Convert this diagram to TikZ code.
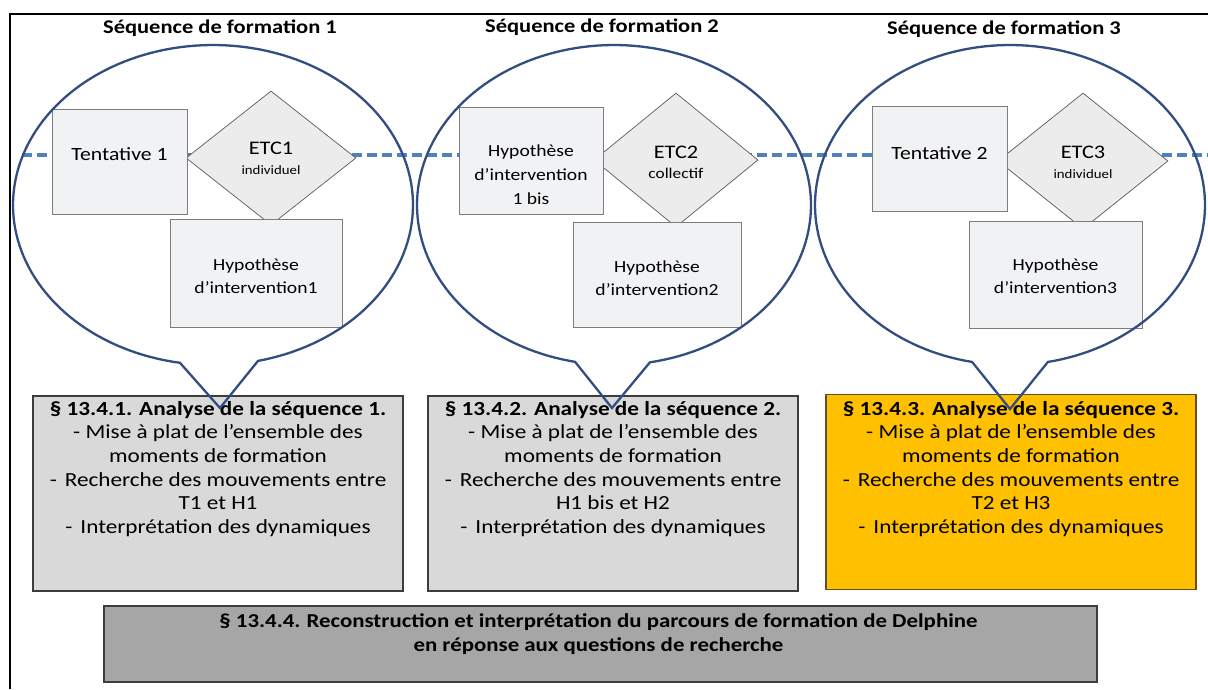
\documentclass[tikz,border=0pt]{standalone}
\usepackage{fontspec}
\setmainfont{Carlito}[FakeStretch=1.16]
\usetikzlibrary{shapes.geometric}
\definecolor{bubblecol}{RGB}{50,78,128}
\definecolor{dashcol}{RGB}{79,129,189}
\definecolor{innerfill}{RGB}{241,242,244}
\definecolor{innerdraw}{RGB}{125,125,125}
\definecolor{diafill}{RGB}{236,236,236}
\definecolor{diadraw}{RGB}{90,90,90}
\definecolor{lowfill}{RGB}{217,217,217}
\definecolor{lowdraw}{RGB}{60,60,60}
\definecolor{orangefill}{RGB}{255,192,0}
\definecolor{orangedraw}{RGB}{95,80,40}
\definecolor{bottomfill}{RGB}{166,166,166}
\newcommand{\fsz}[2]{\fontsize{#1}{#2}\selectfont}
% #1 horizontal shift (x2), #2 raise of first baseline, #3 width, #4 text
\newcommand{\ptext}[4]{\makebox[0pt]{\hspace*{#1}\raisebox{#2}[0pt][0pt]{\parbox[t]{#3}{\centering #4}}}}
\begin{document}
\begin{tikzpicture}[x=1pt,y=-1pt,
  frameline/.style={draw=black,line width=1.2pt},
  titletext/.style={font=\bfseries\fsz{19.4}{22},text=black,inner sep=0pt},
  dashline/.style={draw=dashcol,line width=3.2pt,dash pattern=on 10pt off 5pt},
  ibox/.style={draw=innerdraw,fill=innerfill,line width=0.8pt,inner sep=0pt,rectangle},
  dbox/.style={diamond,draw=diadraw,fill=diafill,line width=0.7pt,inner sep=0pt},
  lowbox/.style={draw=lowdraw,fill=lowfill,line width=1.2pt,inner sep=0pt,rectangle,minimum width=370pt,minimum height=195pt},
  orangebox/.style={lowbox,draw=orangedraw,fill=orangefill},
  bottombox/.style={draw=lowdraw,fill=bottomfill,line width=1.2pt,inner sep=0pt,rectangle,minimum width=993pt,minimum height=76pt},
  bubble/.style={draw=bubblecol,line width=2.3pt}
]
\useasboundingbox (0,0) rectangle (1208,689);
\fill[white] (0,0) rectangle (1208,689);
% frame
\coordinate (fbl) at (10,689);
\coordinate (ftr) at (1208,14);
\draw[frameline] (fbl) |- (ftr);
% dashed time line
\coordinate (dl) at (22,155);
\coordinate (dr) at (1208,155);
\draw[dashline] (dl) -- (dr);

% ---- sequence 1
\node[dbox,minimum width=170pt,minimum height=134pt] (etc1) at (271,158)
  {\ptext{0pt}{3.7pt}{120pt}{\fsz{19.2}{20}ETC1\\\fsz{12.8}{20.5}individuel}};
\node[ibox,minimum width=135pt,minimum height=105pt] (ten1) at (119.5,161.5)
  {\ptext{0pt}{1pt}{130pt}{\fsz{18.7}{22}Tentative 1}};
\node[ibox,minimum width=172pt,minimum height=108pt] (hyp1) at (256,273)
  {\ptext{0pt}{3pt}{168pt}{\fsz{16.9}{23.5}Hypothèse\\d’intervention1}};

% ---- sequence 2
\node[dbox,minimum width=164pt,minimum height=134pt] (etc2) at (676,160)
  {\ptext{0pt}{2pt}{120pt}{\fsz{19.2}{20}ETC2\\\fsz{14.9}{20.5}collectif}};
\node[ibox,minimum width=144pt,minimum height=107pt] (hyp1b) at (531,160.5)
  {\ptext{0pt}{4.5pt}{140pt}{\fsz{16.9}{24}Hypothèse\\d’intervention\\1 bis}};
\node[ibox,minimum width=168pt,minimum height=105pt] (hyp2) at (657,274.5)
  {\ptext{0pt}{2.5pt}{164pt}{\fsz{16.9}{23.5}Hypothèse\\d’intervention2}};

% ---- sequence 3
\node[dbox,minimum width=170pt,minimum height=136pt] (etc3) at (1083,161)
  {\ptext{0pt}{3pt}{120pt}{\fsz{19.2}{20}ETC3\\\fsz{12.8}{20.5}individuel}};
\node[ibox,minimum width=135pt,minimum height=105pt] (ten2) at (939.5,158.5)
  {\ptext{0pt}{-0.5pt}{130pt}{\fsz{18.7}{22}Tentative 2}};
\node[ibox,minimum width=173pt,minimum height=107pt] (hyp3) at (1055.5,274.5)
  {\ptext{0pt}{4.5pt}{168pt}{\fsz{16.9}{23.5}Hypothèse\\d’intervention3}};

% ---- analysis boxes
\node[lowbox] (an1) at (218,493.5)
  {\ptext{0pt}{78.5pt}{366pt}{\fsz{20}{23.7}\textbf{§ 13.4.1.\hspace{7pt}Analyse de la séquence 1.}\\
   - Mise à plat de l’ensemble des\\ moments de formation\\
   -\hspace{8pt}Recherche des mouvements entre\\ T1 et H1\\
   -\hspace{8pt}Interprétation des dynamiques}};
\node[lowbox] (an2) at (613,493.5)
  {\ptext{0pt}{78.5pt}{386pt}{\fsz{20}{23.7}\textbf{§ 13.4.2.\hspace{7pt}Analyse de la séquence 2.}\\
   - Mise à plat de l’ensemble des\\ moments de formation\\
   -\hspace{8pt}Recherche des mouvements entre\\ H1 bis et H2\\
   -\hspace{8pt}Interprétation des dynamiques}};
\node[orangebox] (an3) at (1011,492)
  {\ptext{0pt}{77pt}{366pt}{\fsz{20}{23.7}\textbf{§ 13.4.3.\hspace{7pt}Analyse de la séquence 3.}\\
   - Mise à plat de l’ensemble des\\ moments de formation\\
   -\hspace{8pt}Recherche des mouvements entre\\ T2 et H3\\
   -\hspace{8pt}Interprétation des dynamiques}};
\node[bottombox] (an4) at (600.5,644)
  {\ptext{-4pt}{17pt}{990pt}{\fsz{19.7}{24}\bfseries § 13.4.4.\hspace{6pt}Reconstruction et interprétation du parcours de formation de Delphine\\
   en réponse aux questions de recherche}};

% ---- bubbles (drawn over)
\coordinate (tip1) at (220,408);
\coordinate (tip2) at (612,408);
\coordinate (tip3) at (1010,409);
\draw[bubble] plot[domain=99.5:437,samples=160,variable=\t] ({213+200*cos(\t)},{205+160*sin(\t)}) -- (tip1) -- cycle;
\draw[bubble] plot[domain=101.4:439.5,samples=160,variable=\t] ({614+197*cos(\t)},{205+160*sin(\t)}) -- (tip2) -- cycle;
\draw[bubble] plot[domain=101.2:438.8,samples=160,variable=\t] ({1010+195*cos(\t)},{205+160*sin(\t)}) -- (tip3) -- cycle;

% ---- titles
\node[titletext] (s1) at (220,28) {Séquence de formation 1};
\node[titletext] (s2) at (602,27) {Séquence de formation 2};
\node[titletext] (s3) at (1004,29) {Séquence de formation 3};
\end{tikzpicture}
\end{document}
